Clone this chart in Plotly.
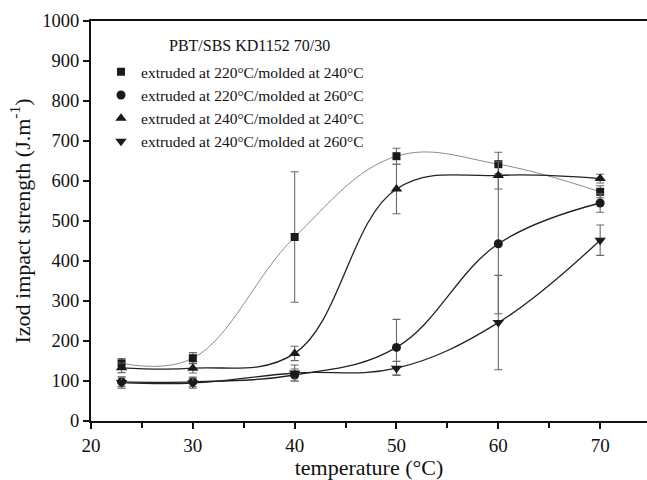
import plotly.graph_objects as go

temps = [23, 30, 40, 50, 60, 70]

sq_vals = [144, 157, 460, 662, 642, 573]
sq_err = [12, 14, 163, 20, 30, 15]

ci_vals = [98, 98, 115, 184, 443, 545]
ci_err = [12, 12, 15, 70, 175, 23]

tu_vals = [133, 132, 169, 580, 614, 606]
tu_err = [12, 12, 18, 62, 34, 11]

td_vals = [96, 95, 120, 132, 246, 452]
td_err = [14, 13, 20, 17, 118, 38]

labels = [
    "extruded at 220°C/molded at 240°C",
    "extruded at 220°C/molded at 260°C",
    "extruded at 240°C/molded at 240°C",
    "extruded at 240°C/molded at 260°C",
]
legend_title = "PBT/SBS KD1152 70/30"

FONT = "Liberation Serif, Times New Roman, serif"
MK = "#1a1a1a"
ERR = "#6a6a6a"

series = [
    (sq_vals, sq_err, "square", 8, "#8c8c8c", 1.0),
    (ci_vals, ci_err, "circle", 9, "#222222", 1.3),
    (tu_vals, tu_err, "triangle-up", 10, "#222222", 1.3),
    (td_vals, td_err, "triangle-down", 10, "#222222", 1.3),
]

fig = go.Figure()

for vals, errs, sym, size, lc, lw in series:
    fig.add_trace(go.Scatter(
        x=temps, y=vals, mode="lines+markers",
        line=dict(shape="spline", smoothing=1.1, color=lc, width=lw),
        marker=dict(symbol=sym, size=size, color=MK),
        error_y=dict(type="data", array=errs, visible=True, color=ERR, thickness=1.1, width=4),
        showlegend=False,
    ))

for (vals, errs, sym, size, lc, lw), lab in zip(series, labels):
    fig.add_trace(go.Scatter(
        x=[None], y=[None], mode="markers",
        marker=dict(symbol=sym, size=size, color=MK),
        name=lab, showlegend=True,
    ))

fig.add_annotation(
    text=legend_title, xref="paper", yref="paper",
    x=(249 - 91) / 556, y=(421 - 45) / 400.3,
    xanchor="center", yanchor="middle", showarrow=False,
    font=dict(family=FONT, size=16, color="#111111"),
)

fig.update_layout(
    width=647, height=480,
    margin=dict(l=91, r=0, t=21, b=59),
    paper_bgcolor="white", plot_bgcolor="white",
    font=dict(family=FONT, color="#111111"),
    legend=dict(
        x=(101 - 91) / 556, y=(421 - 55) / 400.3, xanchor="left", yanchor="top",
        font=dict(family=FONT, size=15.5, color="#111111"),
        bgcolor="rgba(0,0,0,0)", borderwidth=0, tracegroupgap=0,
    ),
)

fig.update_xaxes(
    range=[20, 74.6], tickmode="array", tickvals=[20, 30, 40, 50, 60, 70],
    ticks="outside", ticklen=6, tickwidth=1.5, tickcolor="#111111",
    minor=dict(tickvals=[25, 35, 45, 55, 65], ticks="outside", ticklen=5, tickwidth=1.5, tickcolor="#111111"),
    showline=True, linecolor="#111111", linewidth=2, mirror=True,
    showgrid=False, zeroline=False,
    tickfont=dict(family=FONT, size=19, color="#111111"),
    title=dict(text="temperature (°C)", font=dict(family=FONT, size=22, color="#111111"), standoff=6),
)
fig.update_yaxes(
    range=[0, 1000], tickmode="array", tickvals=list(range(0, 1001, 100)),
    ticks="outside", ticklen=6, tickwidth=1.5, tickcolor="#111111",
    showline=True, linecolor="#111111", linewidth=2,
    showgrid=False, zeroline=False,
    tickfont=dict(family=FONT, size=18.5, color="#111111"),
    title=dict(text="Izod impact strength (J.m<sup>-1</sup>)", font=dict(family=FONT, size=22, color="#111111"), standoff=6),
)

fig.write_html("out.html")
